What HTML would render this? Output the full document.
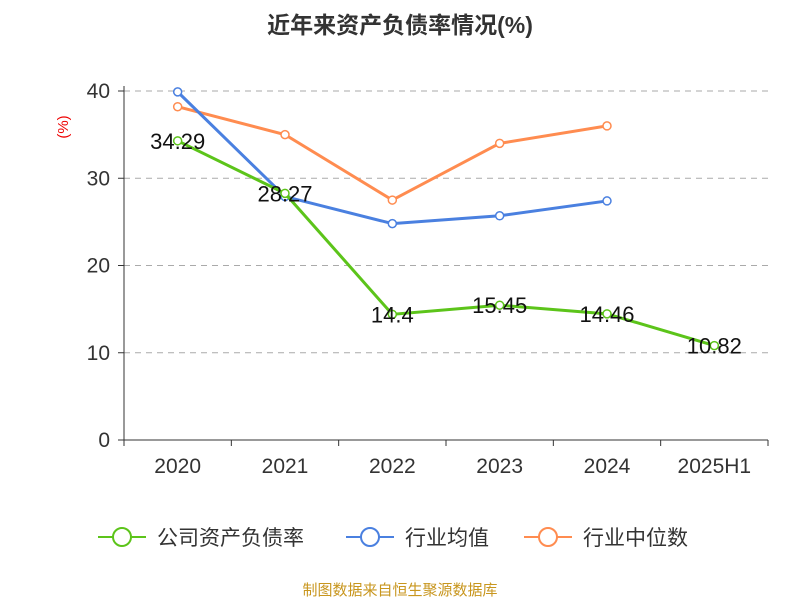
<!DOCTYPE html>
<html><head><meta charset="utf-8"><style>
body{margin:0;background:#fff;font-family:"Liberation Sans","Noto Sans CJK SC",sans-serif;}
svg{display:block}
</style></head><body>
<svg id="chart" width="800" height="600">
<text x="400" y="33" text-anchor="middle" font-size="23" font-weight="bold" fill="#333">近年来资产负债率情况(%)</text>
<text x="68" y="127" text-anchor="middle" font-size="15" fill="#e00" transform="rotate(-90 68 127)">(%)</text>
<g id="grid"></g><g id="axes"></g><g id="series"></g>
<g>
<g><line x1="98" y1="537" x2="146" y2="537" stroke="#5cc41a" stroke-width="2"/><circle cx="122" cy="537" r="9" fill="#fff" stroke="#5cc41a" stroke-width="2"/><text x="157" y="545" font-size="21" fill="#333">公司资产负债率</text></g>
<g><line x1="346" y1="537" x2="394" y2="537" stroke="#4a80e0" stroke-width="2"/><circle cx="370" cy="537" r="9" fill="#fff" stroke="#4a80e0" stroke-width="2"/><text x="405" y="545" font-size="21" fill="#333">行业均值</text></g>
<g><line x1="524" y1="537" x2="572" y2="537" stroke="#ff8c50" stroke-width="2"/><circle cx="548" cy="537" r="9" fill="#fff" stroke="#ff8c50" stroke-width="2"/><text x="583" y="545" font-size="21" fill="#333">行业中位数</text></g>
</g>
<text x="400" y="595" text-anchor="middle" font-size="15" fill="#c8961e">制图数据来自恒生聚源数据库</text>
</svg>
<script>
const categories=["2020","2021","2022","2023","2024","2025H1"];
const companyValues=[34.29,28.27,14.4,15.45,14.46,10.82];
const industryAvg=[39.9,27.9,24.8,25.7,27.4,null];
const industryMedian=[38.2,35.0,27.5,34.0,36.0,null];
const yTicks=[0,10,20,30,40];
const NS="http://www.w3.org/2000/svg";
const x0=124,x1=768,yBase=440,yTop=91,yMax=40;
const bw=(x1-x0)/categories.length;
const X=i=>x0+bw*(i+0.5);
const Y=v=>yBase-(v/yMax)*(yBase-yTop);
function mk(tag,attrs,parent,text){const e=document.createElementNS(NS,tag);for(const k in attrs)e.setAttribute(k,attrs[k]);if(text!==undefined)e.textContent=text;parent.appendChild(e);return e;}
const grid=document.getElementById('grid'),axes=document.getElementById('axes'),series=document.getElementById('series');
yTicks.forEach(t=>{
 if(t>0){const g=mk('line',{x1:x0,x2:x1,y1:Y(t),y2:Y(t),stroke:'#aaa','stroke-dasharray':'6,5'},grid);
 
 }
 const tk=mk('line',{x1:x0-6,x2:x0,y1:Y(t),y2:Y(t),stroke:'#333'},axes);
 
 
 const l=mk('text',{x:x0-14,y:Y(t)+7,'text-anchor':'end','font-size':21,fill:'#333'},axes,String(t));
 
 
});
const ya=mk('line',{x1:x0,x2:x0,y1:yTop-5,y2:yBase,stroke:'#333'},axes);


const xa=mk('line',{x1:x0,x2:x1,y1:yBase,y2:yBase,stroke:'#333'},axes);


for(let i=0;i<=categories.length;i++){const t=mk('line',{x1:x0+bw*i,x2:x0+bw*i,y1:yBase,y2:yBase+6,stroke:'#333'},axes);
 
 }
categories.forEach((c,i)=>{const l=mk('text',{x:X(i),y:yBase+33,'text-anchor':'middle','font-size':21,fill:'#333'},axes,c);
 
 });
function drawSeries(vals,color,name,labels){
 const pts=vals.map((v,i)=>v==null?null:[X(i),Y(v)]).filter(p=>p);
 const pl=mk('polyline',{points:pts.map(p=>p.join(',')).join(' '),fill:'none',stroke:color,'stroke-width':3},series);
 
 
 vals.forEach((v,i)=>{if(v==null)return;
  const c=mk('circle',{cx:X(i),cy:Y(v),r:4,fill:'#fff',stroke:color,'stroke-width':1.5},series);
  
  
  if(labels){const t=mk('text',{x:X(i),y:Y(v)+8,'text-anchor':'middle','font-size':22,fill:'#111'},series,String(v));
   
   }
 });
}
drawSeries(industryMedian,'#ff8c50','industry-median',false);
drawSeries(industryAvg,'#4a80e0','industry-avg',false);
drawSeries(companyValues,'#5cc41a','company',true);
</script>
</body></html>
